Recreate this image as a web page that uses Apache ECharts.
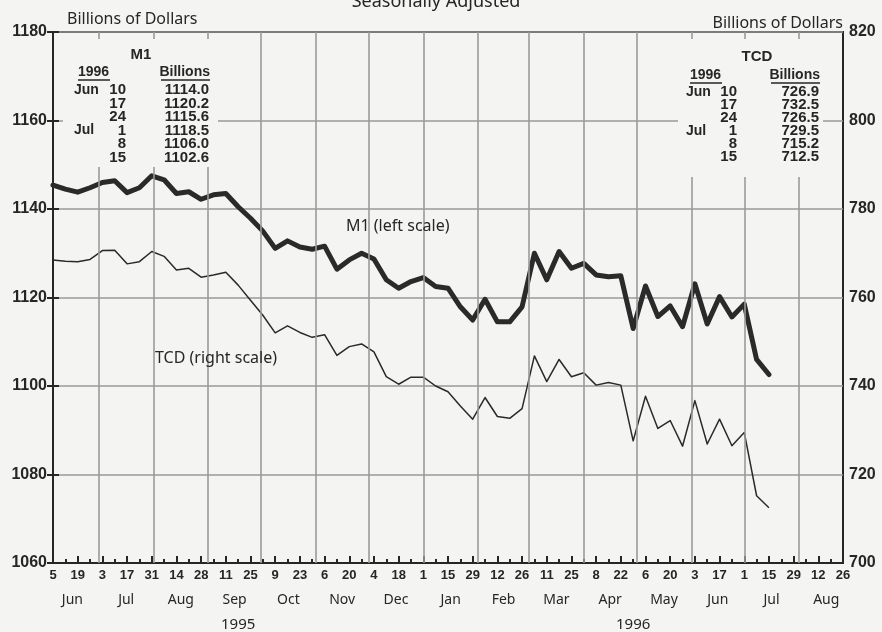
<!DOCTYPE html>
<html><head><meta charset="utf-8">
<script src="https://cdn.jsdelivr.net/npm/echarts@6/dist/echarts.min.js"></script>
<style>html,body{margin:0;padding:0;background:#f4f4f2;}#c{width:882px;height:632px;}</style>
</head><body><div id="c"></div>
<script>
// ---- data ----
const startDate = [1995, 5, 5];   // Mon Jun 5 1995 (first week)
const endDate = [1996, 7, 26];    // Aug 26 1996 (axis end)
const m1 = [1145.4,1144.5,1143.8,1144.8,1146.0,1146.4,1143.7,1144.8,1147.5,1146.6,
  1143.5,1143.9,1142.2,1143.2,1143.5,1140.5,1137.9,1135.0,1131.1,1132.8,
  1131.4,1130.9,1131.6,1126.4,1128.5,1130.0,1128.7,1124.0,1122.1,1123.6,
  1124.5,1122.5,1122.1,1117.9,1114.9,1119.6,1114.5,1114.5,1117.9,1130.0,
  1124.0,1130.4,1126.6,1127.7,1125.1,1124.7,1124.9,1113.0,1122.6,1115.7,
  1118.1,1113.4,1123.1,1114.0,1120.2,1115.6,1118.5,1106.0,1102.6];
const tcd = [768.5,768.2,768.1,768.6,770.6,770.7,767.6,768.1,770.4,769.3,
  766.2,766.6,764.6,765.1,765.7,762.8,759.4,756.0,752.0,753.6,
  752.1,751.0,751.6,746.9,748.9,749.5,747.7,742.1,740.4,742.0,
  742.0,740.0,738.7,735.5,732.5,737.4,733.1,732.7,734.9,746.8,
  741.0,746.0,742.1,743.0,740.2,740.8,740.2,727.6,737.7,730.4,
  732.2,726.4,736.7,726.9,732.5,726.5,729.5,715.2,712.5];
const monthNames = ['Jan','Feb','Mar','Apr','May','Jun','Jul','Aug','Sep','Oct','Nov','Dec'];
const leftTicks = [1060, 1180, 20];
const rightTicks = [700, 820, 20];
const tableMonths = ['Jun','','','Jul','',''];
const tableDays = ['10','17','24','1','8','15'];
const m1Table = ['1114.0','1120.2','1115.6','1118.5','1106.0','1102.6'];
const tcdTable = ['726.9','732.5','726.5','729.5','715.2','712.5'];
const tableYear = '1996';
const tableUnit = 'Billions';

// ---- derived ----
const DAY = 86400000;
const base = Date.UTC(startDate[0], startDate[1], startDate[2]);
const maxDay = (Date.UTC(endDate[0], endDate[1], endDate[2]) - base) / DAY;
const dayOf = (y, m, d) => (Date.UTC(y, m, d) - base) / DAY;
const m1Data = m1.map((v, i) => [i * 7, v]);
const tcdData = tcd.map((v, i) => [i * 7, v]);
const monthStarts = [], monthCenters = [];
for (let y = startDate[0], m = startDate[1]; y < endDate[0] || (y === endDate[0] && m <= endDate[1]); ) {
  const s = dayOf(y, m, 1), e = dayOf(y, m + 1, 1);
  if (s > 0) monthStarts.push(s);
  monthCenters.push((s + e) / 2);
  m++; if (m > 11) { m = 0; y++; }
}
const yearCenters = [];
for (let y = startDate[0]; y <= endDate[0]; y++) {
  const s = Math.max(0, dayOf(y, 0, 1)), e = Math.min(maxDay, dayOf(y + 1, 0, 1));
  yearCenters.push((s + e) / 2);
}
const dateOf = v => new Date(base + Math.round(v) * DAY);

const INK = '#262626', GRID = '#9a9a9a', BG = '#f4f4f2';
const numFont = '"Liberation Sans Narrow","Liberation Sans",Arial,sans-serif';
const txtFont = '"Noto Sans","Liberation Sans",sans-serif';
const tblFont = '"Liberation Sans",Arial,sans-serif';

const chart = echarts.init(document.getElementById('c'), null, {renderer: 'canvas'});

function txt(x, y, text, size, opts) {
  opts = opts || {};
  return {type: 'text', x: x, y: y, z: 11, silent: true, style: {
    text: text, fontSize: size, fontFamily: opts.family || tblFont, fontWeight: opts.weight || 'bold',
    fill: INK, align: opts.align || 'left', verticalAlign: opts.va || 'middle'}};
}

function tableGraphics(opts, values) {
  const g = [];
  g.push({type: 'rect', shape: {x: opts.box[0], y: opts.box[1], width: opts.box[2], height: opts.box[3]}, style: {fill: BG}, z: 10, silent: true});
  g.push(txt(opts.titleX, opts.titleY, opts.title, 15, {align: 'center'}));
  g.push(txt(opts.yearX, opts.headY, tableYear, 14));
  g.push({type: 'line', z: 11, silent: true, shape: {x1: opts.yearX, y1: opts.headY + 8, x2: opts.yearX + 32, y2: opts.headY + 8}, style: {stroke: INK, lineWidth: 1.5}});
  g.push(txt(opts.valX + 1, opts.headY, tableUnit, 14, {align: 'right'}));
  g.push({type: 'line', z: 11, silent: true, shape: {x1: opts.valX - 48, y1: opts.headY + 8, x2: opts.valX + 1, y2: opts.headY + 8}, style: {stroke: INK, lineWidth: 1.5}});
  for (let i = 0; i < values.length; i++) {
    const y = opts.rowY + opts.rowH * i;
    if (tableMonths[i]) g.push(txt(opts.monX, y, tableMonths[i], 14));
    g.push(txt(opts.dayX, y, tableDays[i], 15, {align: 'right'}));
    g.push(txt(opts.valX, y, values[i], 15, {align: 'right'}));
  }
  return g;
}

const graphics = [].concat(
  tableGraphics({box: [63, 39, 155, 128], title: 'M1', titleX: 141, titleY: 55, yearX: 78, headY: 72, valX: 209, monX: 74, dayX: 126, rowY: 90, rowH: 13.5}, m1Table),
  tableGraphics({box: [678, 39, 145, 138], title: 'TCD', titleX: 757, titleY: 57, yearX: 690, headY: 75, valX: 819, monX: 686, dayX: 737, rowY: 92, rowH: 12.9}, tcdTable),
  [
    txt(436, 11, 'Seasonally Adjusted', 18, {family: txtFont, weight: 'normal', align: 'center', va: 'bottom'}),
    txt(67, 19, 'Billions of Dollars', 16, {family: txtFont, weight: 'normal'}),
    txt(843, 23, 'Billions of Dollars', 16, {family: txtFont, weight: 'normal', align: 'right'}),
    txt(346, 226, 'M1 (left scale)', 16, {family: txtFont, weight: 'normal'}),
    txt(155, 358, 'TCD (right scale)', 16, {family: txtFont, weight: 'normal'})
  ]
);

chart.setOption({
  animation: false,
  backgroundColor: BG,
  grid: {left: 53, right: 39, top: 32, bottom: 69, show: true, borderColor: INK, borderWidth: 2, backgroundColor: 'transparent'},
  xAxis: [
    {type: 'value', min: 0, max: maxDay, interval: 14, position: 'bottom',
      axisLine: {show: true, lineStyle: {color: INK, width: 2}},
      axisTick: {show: true, inside: true, length: 7, lineStyle: {color: INK, width: 2}},
      minorTick: {show: true, splitNumber: 2, length: 4, lineStyle: {color: INK, width: 2}},
      splitLine: {show: false},
      axisLabel: {margin: 6, color: INK, fontFamily: numFont, fontWeight: 'bold', fontSize: 13,
        formatter: v => String(dateOf(v).getUTCDate())}},
    {type: 'value', min: 0, max: maxDay, position: 'bottom', offset: 24,
      axisLine: {show: false}, axisTick: {show: false}, splitLine: {show: false},
      axisLabel: {customValues: monthCenters, margin: 6, color: INK, fontFamily: txtFont, fontSize: 14,
        formatter: v => monthNames[dateOf(v).getUTCMonth()]}},
    {type: 'value', min: 0, max: maxDay, position: 'bottom', offset: 48,
      axisLine: {show: false}, axisTick: {show: false}, splitLine: {show: false},
      axisLabel: {customValues: yearCenters, margin: 6, color: INK, fontFamily: txtFont, fontSize: 15,
        formatter: v => String(dateOf(v).getUTCFullYear())}}
  ],
  yAxis: [
    {type: 'value', min: leftTicks[0], max: leftTicks[1], interval: leftTicks[2], position: 'left',
      axisLine: {show: true, lineStyle: {color: INK, width: 2}},
      axisTick: {show: true, length: 6, lineStyle: {color: INK, width: 2}},
      splitLine: {show: true, lineStyle: {color: GRID, width: 1.6}},
      axisLabel: {margin: 6, color: INK, fontFamily: numFont, fontWeight: 'bold', fontSize: 16, formatter: v => String(v)}},
    {type: 'value', min: rightTicks[0], max: rightTicks[1], interval: rightTicks[2], position: 'right',
      axisLine: {show: true, lineStyle: {color: INK, width: 2}},
      axisTick: {show: true, length: 6, lineStyle: {color: INK, width: 2}},
      splitLine: {show: false},
      axisLabel: {margin: 6, color: INK, fontFamily: numFont, fontWeight: 'bold', fontSize: 16, formatter: v => String(v)}}
  ],
  series: [
    {type: 'line', name: 'grid', xAxisIndex: 0, yAxisIndex: 0, data: [], z: 1, silent: true,
      markLine: {silent: true, symbol: ['none', 'none'], label: {show: false}, animation: false,
        lineStyle: {color: GRID, width: 1.6, type: 'solid'},
        data: monthStarts.map(d => ({xAxis: d}))}},
    {type: 'line', name: 'M1', xAxisIndex: 0, yAxisIndex: 0, data: m1Data, showSymbol: false, z: 3,
      lineStyle: {color: '#2a2a2a', width: 5, join: 'round', cap: 'round'}},
    {type: 'line', name: 'TCD', xAxisIndex: 0, yAxisIndex: 1, data: tcdData, showSymbol: false, z: 3,
      lineStyle: {color: '#2a2a2a', width: 1.5, join: 'round'}}
  ],
  graphic: {elements: graphics}
});
</script></body></html>
